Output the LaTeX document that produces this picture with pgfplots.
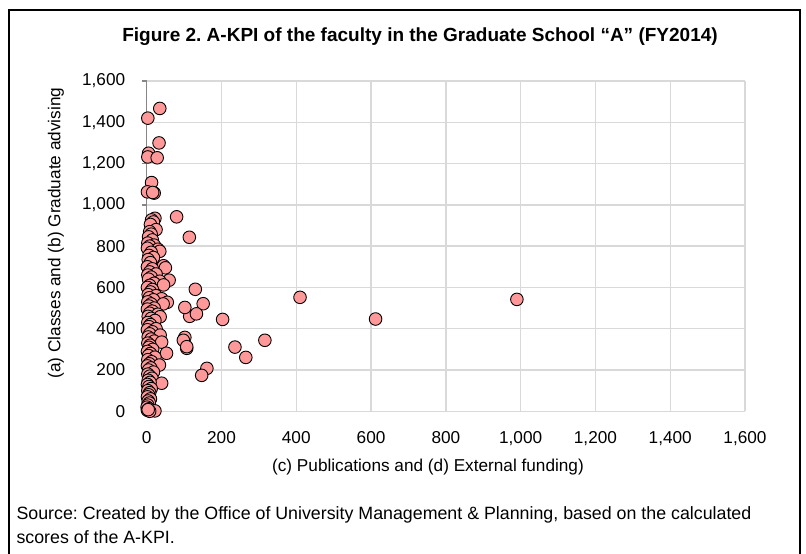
\documentclass[border=0pt]{standalone}
\usepackage{fontspec}
\setmainfont{Liberation Sans}
\usepackage{pgfplots}
\pgfplotsset{compat=1.18}
\definecolor{ptfill}{RGB}{255,153,153}
\definecolor{gridc}{RGB}{217,217,217}
\definecolor{axc}{RGB}{134,134,134}
\frenchspacing
\begin{document}
\begin{tikzpicture}[x=1bp,y=1bp]
\useasboundingbox (0,0) rectangle (806,554);
\draw[line width=2.5bp] (9,-5) -- (9,544) -- (800,544) -- (800,-5);
\begin{axis}[
  at={(146.7bp,142.7bp)}, anchor=south west,
  scale only axis, width=598.3bp, height=330.3bp,
  xmin=0, xmax=1600, ymin=0, ymax=1600,
  xtick={0,200,...,1600}, ytick={0,200,...,1600},
  axis lines*=left,
  x axis line style={draw=none},
  y axis line style={draw=axc, line width=1.5bp},
  grid=major,
  major grid style={draw=gridc, line width=1.3bp},
  xtick style={draw=none},
  ytick style={draw=axc, line width=1.3bp},
  tick align=outside, major tick length=5bp,
  /pgf/number format/assume math mode=true,
  /pgf/number format/.cd, 1000 sep={,}, fixed, /pgfplots/.cd,
  tick label style={font=\fontsize{17.2bp}{20bp}\selectfont, text=black},
  xticklabel style={yshift=-12bp},
  yticklabel style={xshift=-13bp},
  clip=false,
]
\addplot[only marks, mark=*, mark size=6.3bp,
  mark options={fill=ptfill, draw=black, line width=0.9bp}]
coordinates {
(35,1467)(3,1420)(33,1300)(5,1250)(3,1232)(28,1228)(13,1108)(2,1063)(20,1057)(16,1060)
(80,942)(114,843)(22,935)(13,927)(18,917)(10,905)(25,880)(8,870)(12,858)(5,845)
(15,830)(3,815)(20,805)(8,800)(30,785)(35,775)(2,790)(12,770)(6,755)(18,745)
(4,735)(10,720)(45,705)(50,695)(2,700)(15,690)(8,675)(25,665)(3,660)(12,650)
(60,635)(35,630)(5,640)(20,620)(8,610)(45,612)(2,600)(15,590)(10,578)(4,565)
(25,560)(7,550)(40,545)(18,540)(3,530)(55,528)(12,520)(44,520)(6,510)(20,500)
(2,495)(15,485)(8,475)(30,470)(4,460)(36,458)(12,450)(22,440)(3,430)(10,420)
(6,410)(25,400)(2,395)(15,385)(8,375)(36,369)(4,360)(12,350)(20,340)(3,330)
(40,335)(9,320)(6,310)(16,300)(2,290)(53,281)(10,280)(5,270)(22,262)(3,250)
(13,240)(7,230)(34,224)(2,220)(11,210)(5,200)(18,190)(3,180)(8,170)(14,160)
(4,150)(40,136)(9,140)(2,130)(6,120)(12,110)(3,100)(8,90)(5,80)(2,70)
(10,60)(4,50)(7,40)(3,30)(1,20)(6,12)(2,5)(22,2)(8,0)(4,8)
(990,542)(612,447)(410,552)(316,344)(236,311)(265,261)(161,208)(147,174)(203,445)(151,521)
(130,591)(115,460)(133,472)(102,503)(102,358)(98,344)(107,305)(107,313)
};
\end{axis}
\node[font=\bfseries\fontsize{19bp}{22bp}\selectfont] at (420,517) {Figure 2. A-KPI of the faculty in the Graduate School “A” (FY2014)};
\node[font=\fontsize{17.2bp}{20bp}\selectfont, rotate=90] at (56,321) {(a) Classes and (b) Graduate advising};
\node[font=\fontsize{17.2bp}{20bp}\selectfont] at (428,87) {(c) Publications and (d) External funding)};
\node[font=\fontsize{17.8bp}{20bp}\selectfont, anchor=west] at (13,39) {Source: Created by the Office of University Management \& Planning, based on the calculated};
\node[font=\fontsize{17.8bp}{20bp}\selectfont, anchor=west] at (13,17) {scores of the A-KPI.};
\end{tikzpicture}
\end{document}
